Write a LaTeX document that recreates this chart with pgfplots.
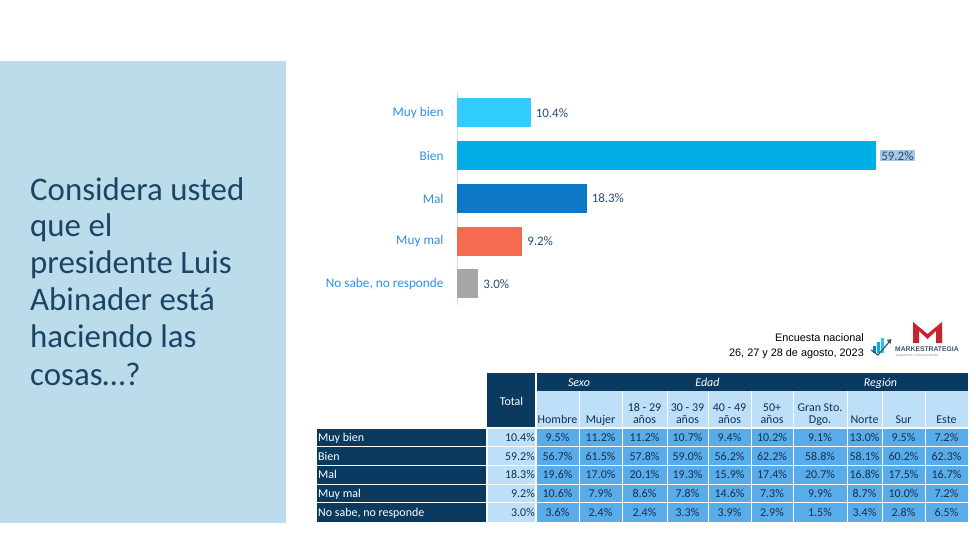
\documentclass[border=0pt]{standalone}
\usepackage{pgfplots}
\pgfplotsset{compat=1.18}
\usepackage{fontspec}
\setmainfont{Carlito}
\newfontfamily\arialf{Liberation Sans}

\definecolor{panel}{HTML}{BDDCEB}
\definecolor{titlec}{HTML}{1B4564}
\definecolor{cMB}{HTML}{33CCFF}
\definecolor{cB}{HTML}{00AEE6}
\definecolor{cM}{HTML}{0E78C8}
\definecolor{cMM}{HTML}{F46B52}
\definecolor{cNS}{HTML}{A6A6A6}
\definecolor{catblue}{HTML}{2F8FE3}
\definecolor{valblue}{HTML}{264E78}
\definecolor{hl}{HTML}{A9C6E4}
\definecolor{axisline}{HTML}{BFE3F5}
\definecolor{navy}{HTML}{0B3A61}
\definecolor{lightc}{HTML}{BDE0F8}
\definecolor{midc}{HTML}{58ACEA}
\definecolor{tabtext}{HTML}{15304C}
\definecolor{mred}{HTML}{C8232C}
\definecolor{mdark}{HTML}{3C5568}

\begin{document}
\begin{tikzpicture}
% page
\fill[white] (0,0) rectangle (976bp,-533bp);

% left question panel
\fill[panel] (0,-61bp) rectangle (286bp,-523bp);
\foreach \t/\y in {Considera usted/200,que el/236.8,presidente Luis/273.3,Abinader está/310,haciendo las/347.5,cosas…?/385}
  \node[anchor=base west, inner sep=0pt, text=titlec, font=\fontsize{33}{38}\selectfont] at (30bp,-\y bp) {\t};

% bar chart
\begin{axis}[
  at={(457bp,-91.6bp)}, anchor=north west,
  scale only axis, width=424.8bp, height=213.75bp,
  xmin=0, xmax=60, ymin=-0.5, ymax=4.5, y dir=reverse,
  xbar, bar width=29bp,
  axis x line=none, axis y line*=left,
  y axis line style={draw=axisline, line width=0.8bp},
  ytick={0,1,2,3,4},
  yticklabels={Muy bien,Bien,Mal,Muy mal,{No sabe, no responde}},
  major tick length=0pt,
  yticklabel style={font=\fontsize{13.3}{15}\selectfont, text=catblue, xshift=-10bp},
  point meta=x,
  nodes near coords={\pgfmathprintnumber[fixed,fixed zerofill,precision=1]{\pgfplotspointmeta}\%},
  nodes near coords style={font=\fontsize{13}{15}\selectfont, text=valblue, anchor=west, inner sep=1pt, xshift=4bp},
  /pgf/number format/assume math mode=true,
  clip=false,
]
\addplot[fill=cMB, draw=none, bar shift=0pt] coordinates {(10.4,0)};
\addplot[fill=cB, draw=none, bar shift=0pt, nodes near coords style={fill=hl}] coordinates {(59.2,1)};
\addplot[fill=cM, draw=none, bar shift=0pt] coordinates {(18.3,2)};
\addplot[fill=cMM, draw=none, bar shift=0pt] coordinates {(9.2,3)};
\addplot[fill=cNS, draw=none, bar shift=0pt] coordinates {(3.0,4)};
\end{axis}

% source note
\node[anchor=base east, inner sep=0pt, font=\arialf\fontsize{10.9}{12}\selectfont] at (864bp,-341bp) {Encuesta nacional};
\node[anchor=base east, inner sep=0pt, font=\arialf\fontsize{10.9}{12}\selectfont] at (864bp,-356bp) {26, 27 y 28 de agosto, 2023};

% logo
\fill[mred] (913bp,-343bp) -- (913bp,-322bp) -- (927.5bp,-334bp) -- (942bp,-322bp) -- (942bp,-343bp) -- (936bp,-343bp) -- (936bp,-331bp) -- (927.5bp,-339bp) -- (919bp,-331bp) -- (919bp,-343bp) -- cycle;
\fill[cM] (873bp,-353bp) rectangle (876bp,-346bp);
\fill[cB] (877bp,-353bp) rectangle (880bp,-342bp);
\fill[cMB!80!cB] (881bp,-353bp) rectangle (884bp,-338bp);
\draw[mdark, line width=1.2bp] (871bp,-350bp) -- (878bp,-355bp) -- (890bp,-341bp);
\fill[mdark] (891.5bp,-339bp) -- (886.5bp,-340bp) -- (890.5bp,-344bp) -- cycle;
\node[anchor=base west, inner sep=0pt, text=mdark, font=\arialf\bfseries\fontsize{6.8}{7}\selectfont] at (895bp,-351.5bp) {MARKESTRATEGIA};
\node[anchor=base west, inner sep=0pt, text=mdark!70, font=\arialf\fontsize{2.8}{3}\selectfont] at (896bp,-356.5bp) {MARKETING Y COMUNICACIÓN};

% table fills
\fill[navy] (317bp,-428bp) rectangle (487bp,-521.5bp);
\fill[lightc] (487bp,-428bp) rectangle (536bp,-521.5bp);
\fill[midc] (536bp,-428bp) rectangle (968bp,-521.5bp);
\fill[navy] (487bp,-373bp) rectangle (536bp,-428bp);
\fill[navy] (536bp,-373bp) rectangle (968bp,-391bp);
\fill[lightc] (536bp,-391bp) rectangle (968bp,-428bp);
% grid lines
\foreach \y in {428,446.7,465.4,484.1,502.8}
  \draw[white, line width=1.2bp] (317bp,-\y bp) -- (968bp,-\y bp);
\draw[white, line width=1.2bp] (487bp,-428bp) -- (487bp,-521.5bp);
\draw[white, line width=1.2bp] (536bp,-373bp) -- (536bp,-521.5bp);
\foreach \x in {579,622,667,708,751,793,847,882,925}
  \draw[white, line width=1bp] (\x bp,-391bp) -- (\x bp,-521.5bp);

% header texts
\node[anchor=base, inner sep=0pt, text=white, font=\fontsize{12}{14}\selectfont] at (511.5bp,-405bp) {Total};
\foreach \t/\x in {Sexo/579,Edad/707.5,Región/880.5}
  \node[anchor=base, inner sep=0pt, text=white, font=\itshape\fontsize{12}{14}\selectfont] at (\x bp,-386bp) {\t};
\foreach \t/\x in {Hombre/557.5,Mujer/600.5,años/644.5,años/687.5,años/729.5,años/772,Dgo./820,Norte/864.5,Sur/903.5,Este/946.5}
  \node[anchor=base, inner sep=0pt, text=tabtext, font=\fontsize{12}{14}\selectfont] at (\x bp,-423bp) {\t};
\foreach \t/\x in {18 - 29/644.5,30 - 39/687.5,40 - 49/729.5,50+/772,Gran Sto./820}
  \node[anchor=base, inner sep=0pt, text=tabtext, font=\fontsize{12}{14}\selectfont] at (\x bp,-411bp) {\t};

% row labels
\foreach \t [count=\i from 0] in {Muy bien,Bien,Mal,Muy mal,{No sabe, no responde}}
  \node[anchor=base west, inner sep=0pt, text=white, font=\fontsize{12}{14}\selectfont] at (318bp,-441.5bp-\i*18.7bp) {\t};

% table values
\foreach \row [count=\i from 0] in {
  {10.4,9.5,11.2,11.2,10.7,9.4,10.2,9.1,13.0,9.5,7.2},
  {59.2,56.7,61.5,57.8,59.0,56.2,62.2,58.8,58.1,60.2,62.3},
  {18.3,19.6,17.0,20.1,19.3,15.9,17.4,20.7,16.8,17.5,16.7},
  {9.2,10.6,7.9,8.6,7.8,14.6,7.3,9.9,8.7,10.0,7.2},
  {3.0,3.6,2.4,2.4,3.3,3.9,2.9,1.5,3.4,2.8,6.5}} {
  \foreach \v [count=\j] in \row {
    \pgfmathsetmacro{\cx}{{511.5,557.5,600.5,644.5,687.5,729.5,772,820,864.5,903.5,946.5}[\j-1]}
    \ifnum\j=1
      \node[anchor=base east, inner sep=0pt, text=tabtext, font=\fontsize{12}{14}\selectfont] at (535bp,-441.5bp-\i*18.7bp) {\v\%};
    \else
      \node[anchor=base, inner sep=0pt, text=tabtext, font=\fontsize{12}{14}\selectfont] at (\cx bp,-441.5bp-\i*18.7bp) {\v\%};
    \fi
  }
}
\end{tikzpicture}
\end{document}
